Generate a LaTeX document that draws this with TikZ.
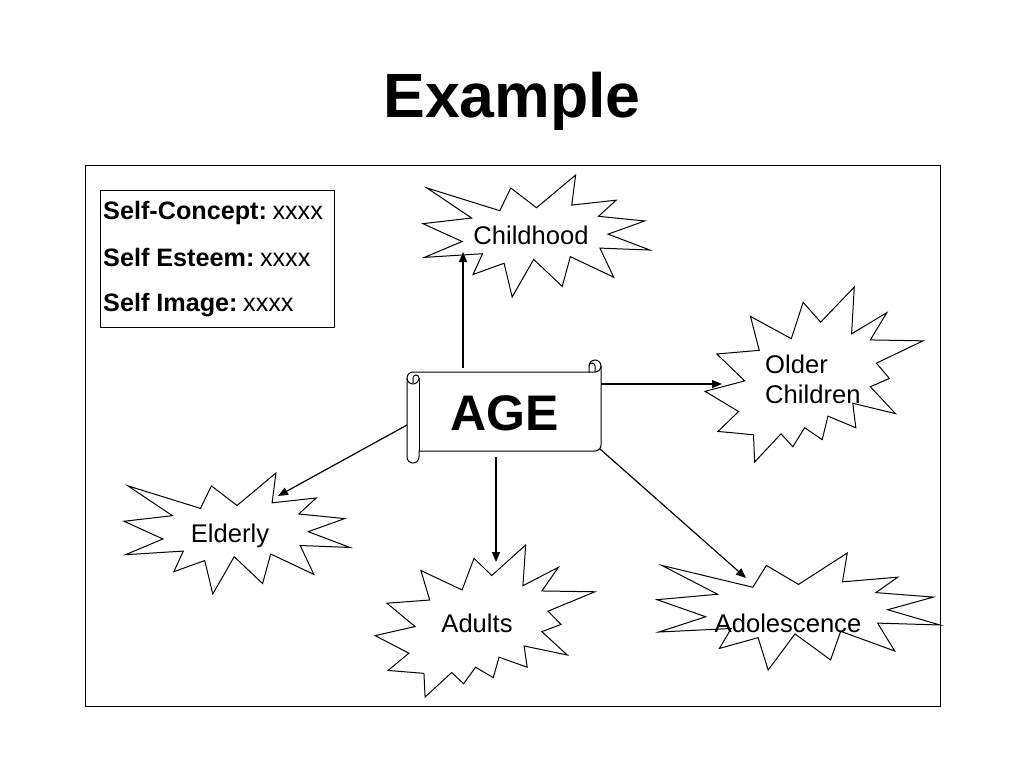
\documentclass[tikz,border=0pt]{standalone}
\usepackage{fontspec}
\setmainfont{Liberation Sans}
\usetikzlibrary{arrows.meta}
\tikzset{
  seal/.style={draw=black, fill=white, line width=1pt, line join=miter},
  frameline/.style={draw=black, line width=1pt},
  scrollline/.style={draw=black, line width=1pt},
  conn/.style={draw=black, line width=1.2pt, -{Triangle[length=10pt,width=8pt]}},
  lbl/.style={font=\fontsize{25.6}{30}\selectfont, anchor=base, inner sep=0pt},
  lblw/.style={lbl, anchor=base west},
  legtext/.style={font=\fontsize{25.2}{30}\selectfont, anchor=base west, inner sep=0pt},
}
\newcommand\drawSealOne[4]{%
  \draw[seal, shift={(#1,#2)}, xscale=#3/216, yscale=#4/216]
  (108,58) -- (145.22,0) -- (141.55,53.25) -- (183.80,44.57) -- (167.02,73.15)
  -- (210.97,81.37) -- (176.07,104.75) -- (216,132.90) -- (168.37,129.42)
  -- (181.45,180.95) -- (140.20,144.57) -- (132.47,197.37) -- (105.32,149.35)
  -- (84.85,216) -- (77.15,156.27) -- (47.62,176.17) -- (56.67,139.37)
  -- (1.35,145.87) -- (37.22,117.75) -- (0,86.15) -- (46.27,76.17)
  -- (3.70,22.95) -- (73.12,63.20) -- (83.52,22.95) -- cycle;}
\newcommand\drawSealTwo[4]{%
  \draw[seal, shift={(#1,#2)}, xscale=#3/216, yscale=#4/216]
  (114.62,43.42) -- (147.90,0) -- (145.25,57.77) -- (180.07,31.72) -- (163.80,65.32)
  -- (216,66.45) -- (169.85,94.02) -- (182.70,112.90) -- (163.80,123.10)
  -- (188.77,156.32) -- (146.40,143.50) -- (149.42,173.70) -- (121.80,159.35)
  -- (116.12,188.42) -- (98.72,173.70) -- (87,197.12) -- (75.27,181.25)
  -- (49.17,216) -- (48.05,182.40) -- (12.85,178.25) -- (33.30,153.70)
  -- (0,128.77) -- (39.35,115.92) -- (11.72,82.70) -- (53.72,78.17)
  -- (45.02,36.25) -- (85.50,63.82) -- (97.22,18.87) -- cycle;}
\begin{document}
\begin{tikzpicture}[x=1pt, y=-1pt]
\useasboundingbox[fill=white] (0,0) rectangle (1024,768);

% title
\node[font=\fontsize{62.6}{70}\selectfont\bfseries, anchor=base, inner sep=0pt] (title) at (512,117) {Example};

% frame
\draw[frameline] (85,165) rectangle (940,706);

% legend
\draw[frameline] (100,190) rectangle (334,327);
\node[legtext] (lg1) at (103,219) {\textbf{Self-Concept:}\hspace{0.22em}xxxx};
\node[legtext] (lg2) at (103,266) {\textbf{Self Esteem:}\hspace{0.22em}xxxx};
\node[legtext] (lg3) at (103,311) {\textbf{Self Image:}\hspace{0.22em}xxxx};

% starbursts
\drawSealOne{423}{175}{227}{122}
\drawSealTwo{705}{287}{218}{175}
\drawSealOne{124}{473}{226}{121}
\drawSealTwo{375}{545}{220}{152}
\drawSealOne{657}{553}{283}{117}

\node[lbl] (childhood) at (531,244) {Childhood};
\node[lblw] (older1) at (765,373) {Older};
\node[lblw] (older2) at (765,403) {Children};
\node[lbl] (elderly) at (230,542) {Elderly};
\node[lbl] (adults) at (477,632) {Adults};
\node[lbl] (adolescence) at (788,632) {Adolescence};

% scroll
\draw[scrollline, fill=white] (407,378) arc[start angle=180,end angle=90,radius=6pt]
  -- (589,372) -- (589,366) arc[start angle=180,end angle=0,radius=6pt]
  -- (601,445) arc[start angle=0,end angle=-90,radius=6pt]
  -- (419,451) -- (419,457) arc[start angle=0,end angle=-180,radius=6pt] -- cycle;
\draw[scrollline] (589,372) -- (595,372) arc[start angle=-90,end angle=0,radius=6pt];
\draw[scrollline] (595,372) -- (595,366) arc[start angle=0,end angle=180,radius=3pt];
\draw[scrollline] (413,384) -- (413,378) arc[start angle=180,end angle=0,radius=3pt]
  arc[start angle=0,end angle=-180,radius=6pt];
\draw[scrollline] (419,378) -- (419,451);
\node[font=\fontsize{50}{56}\selectfont\bfseries, anchor=base, inner sep=0pt] (age) at (505,430) {AGE};

% connector endpoints
\coordinate (ageN) at (463,368);  \coordinate (childT) at (463,252);
\coordinate (ageE) at (601,384);  \coordinate (olderT) at (722,384);
\coordinate (ageW) at (407,425);  \coordinate (elderT) at (278,496);
\coordinate (ageS) at (496,457);  \coordinate (adultT) at (496,562);
\coordinate (ageSE) at (600,449); \coordinate (adolT) at (746,578);

\draw[conn] (ageN) -- (childT);
\draw[conn] (ageE) -- (olderT);
\draw[conn] (ageW) -- (elderT);
\draw[conn] (ageS) -- (adultT);
\draw[conn] (ageSE) -- (adolT);
\end{tikzpicture}
\end{document}
